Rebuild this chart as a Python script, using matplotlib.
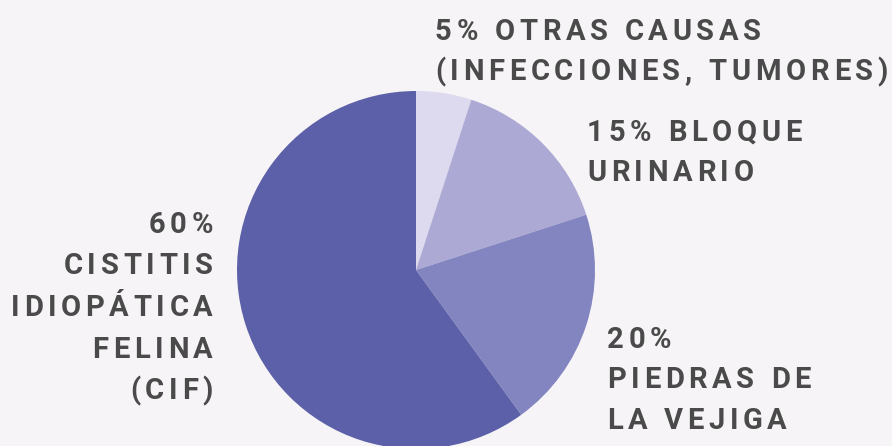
import matplotlib
matplotlib.use('Agg')
import matplotlib.pyplot as plt
from matplotlib.font_manager import FontProperties

# slice values (clockwise from the top) and their colours
causes = ['Otras causas', 'Bloqueo urinario', 'Piedras de la vejiga', 'CIF']
shares = [5, 15, 20, 60]
colors = ['#DDD9EE', '#ACA9D5', '#8385C0', '#5C60A8']

# labels as shown around the pie, one list of lines per slice
label_lines = [
    ['5% OTRAS CAUSAS', '(INFECCIONES, TUMORES)'],
    ['15% BLOQUE', 'URINARIO'],
    ['20%', 'PIEDRAS DE', 'LA VEJIGA'],
    ['60%', 'CISTITIS', 'IDIOPÁTICA', 'FELINA', '(CIF)'],
]

W, H = 892, 446
fig = plt.figure(figsize=(W / 100, H / 100), dpi=100)
fig.patch.set_facecolor('#F6F4F6')
ax = fig.add_axes([0, 0, 1, 1])

ax.pie(shares, colors=colors, startangle=90, counterclock=False,
       center=(416, H - 270), radius=179, frame=True,
       wedgeprops=dict(linewidth=0))
ax.set_xlim(0, W)
ax.set_ylim(0, H)
ax.set_aspect('equal')
ax.axis('off')

renderer = fig.canvas.get_renderer()
font = FontProperties(family='Roboto', weight='bold', size=21)
TRACK = 4.7  # extra pixels between letters


def char_w(c):
    w, _, _ = renderer.get_text_width_height_descent(c, font, ismath=False)
    return w


def spaced_line(s, x, y_base, align='left'):
    """draw one line with letter spacing; y_base is baseline in px from top"""
    widths = [char_w(c) for c in s]
    total = sum(widths) + TRACK * (len(s) - 1)
    cx = x if align == 'left' else x - total
    for c, w in zip(s, widths):
        ax.text(cx, H - y_base, c, fontproperties=font, color='#4A4A4A',
                ha='left', va='baseline')
        cx += w + TRACK


def block(lines, x, first_base, pitch, align='left'):
    for i, line in enumerate(lines):
        spaced_line(line, x, first_base + i * pitch, align)


block(label_lines[0], 435, 40, 40)
block(label_lines[1], 587, 141, 40)
block(label_lines[2], 607, 348, 40.5)
block(label_lines[3], 213, 233, 41.5, align='right')

fig.savefig('out.png', dpi=100, facecolor=fig.get_facecolor())
